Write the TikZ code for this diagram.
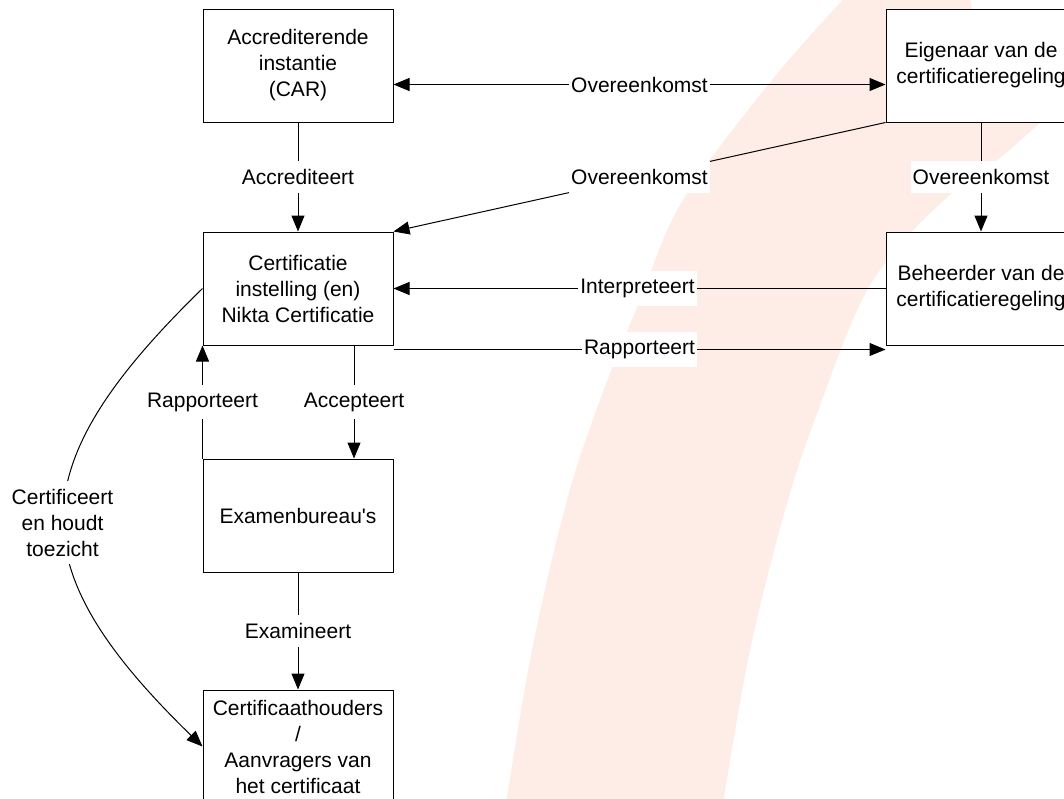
\documentclass[tikz,border=0pt]{standalone}
\usepackage{fontspec}
\setmainfont{Liberation Sans}
\usetikzlibrary{arrows.meta}
\def\swoosh{plot[smooth, tension=0.6] coordinates {(852,-10) (772,80) (683,200) (640,300) (600,400) (567,500) (532,650) (505,810)}
	-- plot[smooth, tension=0.6] coordinates {(722,810) (750,650) (788,500) (822,400) (862,300) (900,245) (950,195) (1000,158) (1045,118)}
	-- (1080,100) -- (1080,20) -- (972,9) -- (968,-10) -- cycle}
\definecolor{swoosh area}{RGB}{253,237,230}
\tikzset{box/.style={draw, fill=white, minimum width=95pt, minimum height=56.5pt, inner sep=2pt,
		align=center, font=\fontsize{10.5}{13}\selectfont},
	tag/.style={fill=white, inner xsep=1pt, inner ysep=4pt, align=center, font=\fontsize{10.5}{13}\selectfont}}

\begin{document}
\begin{tikzpicture}[x=0.5pt, y=-0.5pt, line width=0.5pt, >={Triangle[length=8pt,width=6.5pt]}]
		\useasboundingbox (0,0) rectangle (1064,798);
		\fill[swoosh area] \swoosh;
		
		\node[box] (car) at (298,65.5) {Accrediterende\\instantie\\(CAR)};
		\node[box] (eigenaar) at (981,65.5) {Eigenaar van de\\certificatieregeling};
		\node[box] (cert) at (298,288.5) {Certificatie\\instelling (en)\\Nikta Certificatie};
		\node[box] (beheerder) at (981,288.5) {Beheerder van de\\certificatieregeling};
		\node[box] (bureau) at (298,515.5) {Examenbureau\textquotesingle s};
		\node[box] (houders) at (298,746.5) {Certificaathouders\\/\\Aanvragers van\\het certificaat};
		
		\draw[<->] ([yshift=-9.5pt]car.east) -- node[tag] {Overeenkomst} ([yshift=-9.5pt]eigenaar.west);
		\draw[->] (car) -- node[tag] {Accrediteert} (cert);
		\draw[->] (eigenaar.south west) -- node[tag] {Overeenkomst} (cert.north east);
		\draw[->] (eigenaar) -- node[tag] {Overeenkomst} (beheerder);
		\draw[->] (beheerder) -- node[tag, xshift=-1pt] {Interpreteert} (cert);
		\draw[->] ([yshift=-2pt]cert.south east) -- node[tag] {Rapporteert} ([yshift=-2pt]beheerder.south west);
		\draw[->] (bureau.north west) -- node[tag] {Rapporteert} (cert.south west);
		\draw[->] ([xshift=28pt]cert.south) -- node[tag] {Accepteert} ([xshift=28pt]bureau.north);
		\draw[->] (bureau) -- node[tag] {Examineert} (houders);
		\draw[->] (cert.west) .. controls +(-184,179) and +(-184,-179) .. (houders.west)
		node[tag, pos=0.5, yshift=-2.5pt, xshift=-1pt] {Certificeert\\en houdt\\toezicht};
		\end{tikzpicture}
\end{document}
